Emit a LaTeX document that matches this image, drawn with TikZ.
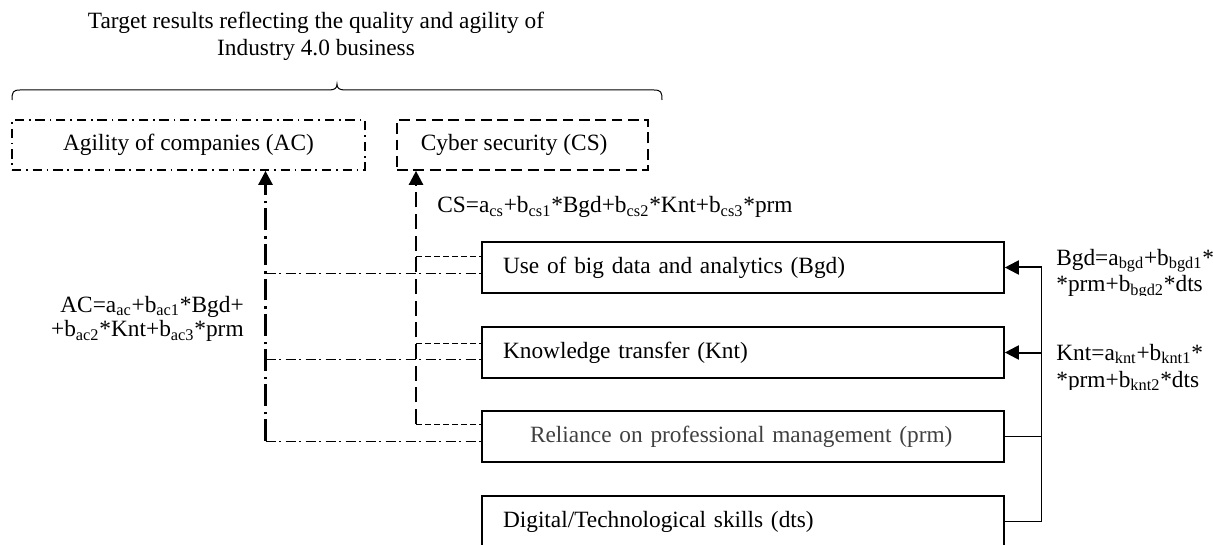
\documentclass[tikz,border=0pt]{standalone}
\usepackage{fontspec}
\setmainfont{Liberation Serif}
\usetikzlibrary{arrows.meta,calc}
\definecolor{softgray}{HTML}{404040}
\begin{document}
\begin{tikzpicture}[x=0.6pt,y=-0.6pt,
  font=\fontsize{14}{16.2}\selectfont,
  factorbox/.style={draw, line width=1pt, minimum width=313.2pt, minimum height=30.6pt,
    text width=288pt, inner xsep=12.6pt, inner ysep=0pt, align=left},
  resultbox/.style={draw, line width=1pt, minimum height=30pt, inner sep=0pt},
  acborder/.style={dash pattern=on 5.6pt off 2.8pt on 1pt off 3pt},
  csborder/.style={dash pattern=on 6.5pt off 3.3pt},
  acmain/.style={line width=1.5pt, dash pattern=on 13pt off 3pt on 1.5pt off 3.6pt},
  csmain/.style={line width=1.5pt, dash pattern=on 9pt off 4pt},
  acbranch/.style={line width=0.6pt, dash pattern=on 6pt off 2.1pt on 1.2pt off 2.7pt},
  csbranch/.style={line width=0.6pt, dash pattern=on 3.6pt off 1.8pt},
  feed/.style={line width=0.8pt},
  tip/.style={-{Triangle[length=8.4pt,width=8.4pt]}},
  feedarrow/.style={line width=1.2pt, tip},
  eqn/.style={inner sep=0pt},
]
\useasboundingbox (0,0) rectangle (1213,545);

% heading and brace over the two target results
\node[align=center, anchor=base] (title) at (316,56)
  {Target results reflecting the quality and agility of\\Industry 4.0 business};
\draw[line width=0.6pt] (12,100) .. controls (12,92) and (13,90) .. (20,90) -- (329,90)
  .. controls (335,90) and (337,88) .. (337,84)
  .. controls (337,88) and (339,90) .. (345,90) -- (654,90)
  .. controls (661,90) and (662,92) .. (662,100);

% target results
\node[resultbox, acborder, minimum width=211.8pt] (AC) at (188.5,145) {Agility of companies (AC)};
\node[resultbox, csborder, minimum width=150.6pt] (CS) at (522.5,145) {Cyber security (CS)\hspace*{10pt}};

% factors
\node[factorbox] (Bgd) at (743,267.5) {Use of big data and analytics (Bgd)};
\node[factorbox] (Knt) at (743,352.5) {Knowledge transfer (Knt)};
\node[factorbox, text=softgray] (prm) at (743,436.5) {\hspace*{16.2pt}Reliance on professional management (prm)};
\node[factorbox] (dts) at (743,521.5) {Digital/Technological skills (dts)};

% attachment points of the branches
\coordinate (acfoot) at (265.5,441);
\coordinate (csfoot) at (416,424);
\coordinate (bgdcs) at ($(Bgd.west)+(0,-10.5)$);
\coordinate (bgdac) at ($(Bgd.west)+(0,6.5)$);
\coordinate (kntcs) at ($(Knt.west)+(0,-9.5)$);
\coordinate (kntac) at ($(Knt.west)+(0,6.5)$);
\coordinate (prmcs) at ($(prm.west)+(0,-12.5)$);
\coordinate (prmac) at ($(prm.west)+(0,4.5)$);
\coordinate (bus) at (1041.5,266);

% paths into AC and CS
\draw[acbranch] (acfoot |- bgdac) -- (bgdac);
\draw[acbranch] (acfoot |- kntac) -- (kntac);
\draw[acbranch] (acfoot) -- (prmac);
\draw[csbranch] (csfoot |- bgdcs) -- (bgdcs);
\draw[csbranch] (csfoot |- kntcs) -- (kntcs);
\draw[csbranch] (csfoot) -- (prmcs);
\draw[acmain, tip] (acfoot) -- (acfoot |- AC.south);
\draw[csmain, tip] (csfoot) -- (csfoot |- CS.south);

% feedback from prm and dts into Bgd and Knt
\draw[feed] (prm.east) -- (prm.east -| bus);
\draw[feed] (dts.east) -- (dts.east -| bus) -- (bus |- Bgd.east);
\draw[feedarrow] (bus |- Bgd.east) -- (Bgd.east);
\draw[feedarrow] (bus |- Knt.east) -- (Knt.east);

% regression equations
\node[eqn, anchor=base west] (cseq) at (437,213)
  {CS=a\textsubscript{cs}+b\textsubscript{cs1}*Bgd+b\textsubscript{cs2}*Knt+b\textsubscript{cs3}*prm};
\node[eqn, align=right, anchor=base east] (aceq) at (244,337)
  {AC=a\textsubscript{ac}+b\textsubscript{ac1}*Bgd+\\[-1.2pt]+b\textsubscript{ac2}*Knt+b\textsubscript{ac3}*prm};
\begin{scope}
  \clip (1040,240) rectangle (1213,295.5);
  \node[eqn, align=left, anchor=base west] (bgdeq) at (1056,292)
    {Bgd=a\textsubscript{bgd}+b\textsubscript{bgd1}*\\{}*prm+b\textsubscript{bgd2}*dts};
\end{scope}
\begin{scope}
  \clip (1040,330) rectangle (1213,389.5);
  \node[eqn, align=left, anchor=base west] (knteq) at (1056,387)
    {Knt=a\textsubscript{knt}+b\textsubscript{knt1}*\\{}*prm+b\textsubscript{knt2}*dts};
\end{scope}
\end{tikzpicture}
\end{document}
